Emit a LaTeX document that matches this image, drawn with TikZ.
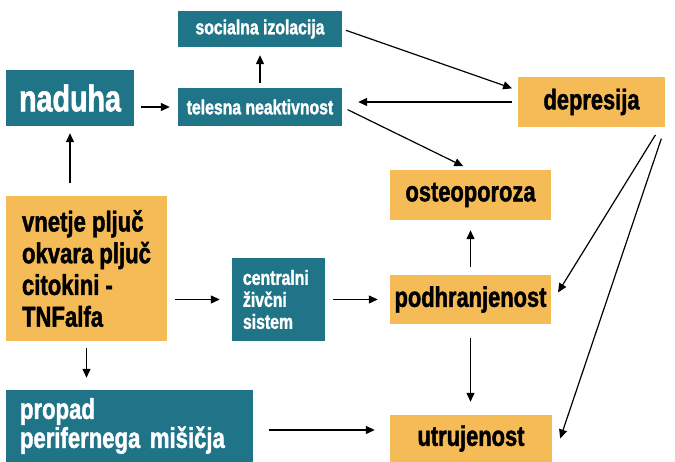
\documentclass[tikz,border=0pt]{standalone}
\usepackage{fontspec}
\setmainfont{Liberation Sans}[FakeStretch=0.77,BoldFeatures={FakeBold=1.5}]
\usetikzlibrary{arrows.meta,calc}
\definecolor{teal}{HTML}{1F7488}
\definecolor{ylw}{HTML}{F5BB57}
\begin{document}
\begin{tikzpicture}[x=1pt,y=1pt,
  tbox/.style={fill=teal,text=white,inner sep=0pt,font=\bfseries},
  ybox/.style={fill=ylw,text=black,inner sep=0pt,font=\bfseries},
  arr/.style={line width=1.2pt,-{Triangle[length=9pt,width=8pt]}}]
\useasboundingbox (0,0) rectangle (675,462);
\node[tbox,minimum width=164pt,minimum height=36pt,font=\bfseries\fontsize{20.5}{22}\selectfont] (soc) at (260,433) {socialna izolacija};
\node[tbox,minimum width=128pt,minimum height=56pt,font=\bfseries\fontsize{37.2}{40}\selectfont] (nad) at (70,364) {naduha};
\node[tbox,minimum width=164pt,minimum height=38pt,font=\bfseries\fontsize{20.5}{22}\selectfont] (tel) at (260,355) {telesna neaktivnost};
\node[ybox,minimum width=147pt,minimum height=50pt,font=\bfseries\fontsize{28.4}{30}\selectfont] (dep) at (591.5,360) {depresija};
\node[ybox,minimum width=161pt,minimum height=50pt,font=\bfseries\fontsize{28.4}{30}\selectfont] (ost) at (470.5,267) {osteoporoza};
\node[ybox,minimum width=161pt,minimum height=145pt,align=left,font=\bfseries\fontsize{28.7}{31.7}\selectfont] (vne) at (86.5,193.5) {vnetje pljuč\\okvara pljuč\\citokini -\\TNFalfa};
\node[tbox,text width=71pt,inner xsep=11pt,minimum height=83pt,align=left,font=\bfseries\fontsize{20.5}{22}\selectfont] (cns) at (278.5,162.5) {centralni\\živčni\\sistem};
\node[ybox,minimum width=161pt,minimum height=49pt,font=\bfseries\fontsize{28.4}{30}\selectfont] (pod) at (470.5,162.5) {podhranjenost};
\node[tbox,text width=219pt,inner xsep=14pt,minimum height=72pt,align=left,font=\bfseries\fontsize{28.7}{29}\selectfont] (pro) at (129.5,36) {propad\\perifernega mišičja};
\node[ybox,minimum width=162pt,minimum height=47pt,font=\bfseries\fontsize{28.4}{30}\selectfont] (utr) at (471,23.5) {utrujenost};

\draw[arr,shorten <=7pt,shorten >=8pt] (nad.east |- tel.west) -- (tel.west);
\draw[arr,shorten <=5pt,shorten >=8pt] (tel.north) -- (soc.south);
\draw[arr,shorten <=4pt,shorten >=6pt] (soc.east) -- (dep.171);
\draw[arr,shorten <=6pt,shorten >=16pt] (dep.west) -- (dep.west -| tel.east);
\draw[arr,shorten <=6pt,shorten >=8pt] (tel.east) -- (ost.north);
\draw[arr,shorten <=13pt,shorten >=7pt] (nad.south |- vne.north) -- (nad.south);
\draw[arr,shorten <=8pt,shorten >=12pt] (vne.east |- cns.west) -- (cns.west);
\draw[arr,shorten <=7pt,shorten >=12pt] (vne.south) -- (vne.south |- pro.north);
\draw[arr,shorten <=8pt,shorten >=12pt] (cns.east) -- (cns.east -| pod.west);
\draw[arr,shorten <=8pt,shorten >=10pt] (pod.north) -- (ost.south);
\draw[arr,shorten <=14pt,shorten >=13pt] (pod.south) -- (pod.south |- utr.north);
\draw[arr,shorten <=16pt,shorten >=15pt] ([yshift=-4pt]pro.east) -- ([yshift=-4pt]pro.east -| utr.west);
\draw[arr,shorten <=9pt,shorten >=13pt] ([xshift=-5pt]dep.south east) -- ([yshift=-4pt]pod.east);
\draw[arr,shorten <=12pt,shorten >=25pt] (dep.south east) -- (utr.south east);
\end{tikzpicture}
\end{document}
